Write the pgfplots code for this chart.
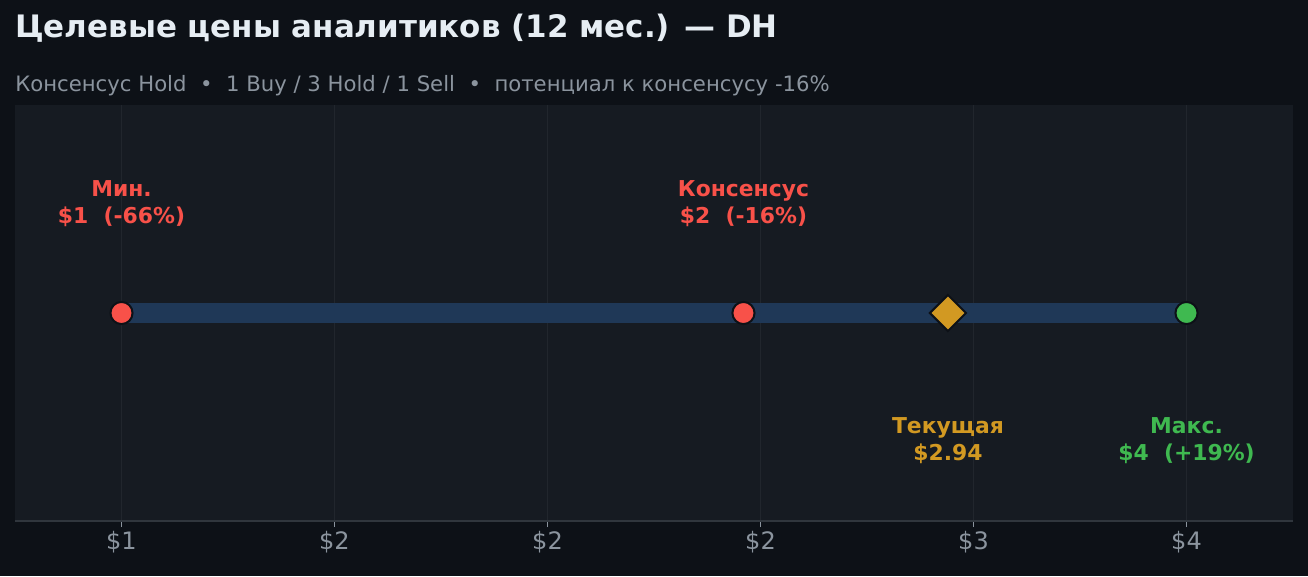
\documentclass[border=0pt]{standalone}
\usepackage{pgfplots}
\pgfplotsset{compat=1.18}
\usepackage{fontspec}
\setmainfont{DejaVu Sans}

\definecolor{pagebg}{HTML}{0D1117}
\definecolor{plotbg}{HTML}{161B22}
\definecolor{gridc}{HTML}{21262D}
\definecolor{spine}{HTML}{30363D}
\definecolor{titlec}{HTML}{E6EDF3}
\definecolor{subc}{HTML}{8B949E}
\definecolor{barc}{HTML}{1F3857}
\definecolor{redc}{HTML}{F85149}
\definecolor{goldc}{HTML}{D29922}
\definecolor{greenc}{HTML}{3FB950}

\begin{document}
\begin{tikzpicture}
% page 1308x576 px, 1px = 0.75pt; axis box at px (15..1293, 105..521)
\fill[pagebg] (-11.25pt,-41.25pt) rectangle (969.75pt,390.75pt);
\useasboundingbox (-11.25pt,-41.25pt) rectangle (969.75pt,390.75pt);

\node[anchor=base west, inner sep=0pt, text=titlec, font=\fontsize{23.2}{28}\selectfont\bfseries]
  at (0pt,362.25pt) {Целевые цены аналитиков (12 мес.) — DH};
\node[anchor=base west, inner sep=0pt, text=subc, font=\fontsize{15.9}{19}\selectfont]
  at (0pt,322.5pt) {Консенсус Hold \ •\ \ 1 Buy / 3 Hold / 1 Sell \ •\ \ потенциал к консенсусу -16\%};

\begin{axis}[
  at={(0pt,0pt)}, anchor=south west,
  scale only axis, width=958.5pt, height=312pt,
  xmin=0.75, xmax=3.75, ymin=-1, ymax=1,
  axis background/.style={fill=plotbg},
  axis x line=bottom, axis y line=none,
  x axis line style={draw=spine, line width=1.5pt, -},
  xtick={1,1.5,2,2.5,3,3.5},
  xticklabels={\$1,\$2,\$2,\$2,\$3,\$4},
  xticklabel style={text=subc, font=\fontsize{18}{21}\selectfont},
  major tick length=4.5pt, tick align=outside,
  xtick style={draw=subc, line width=0.8pt},
  xmajorgrids, grid style={draw=gridc, line width=0.8pt},
  ytick=\empty,
  clip=false,
]
% range bar
\addplot[draw=barc, line width=15pt, line cap=butt] coordinates {(1,0) (3.5,0)};
% min, consensus
\addplot[only marks, mark=*, mark size=8.3pt, mark options={fill=redc, draw=pagebg, line width=1.5pt}]
  coordinates {(1,0) (2.46,0)};
% max
\addplot[only marks, mark=*, mark size=8.3pt, mark options={fill=greenc, draw=pagebg, line width=1.5pt}]
  coordinates {(3.5,0)};
% current
\addplot[only marks, mark=square*, mark size=9.6pt, mark options={fill=goldc, draw=pagebg, line width=1.5pt, rotate=45}]
  coordinates {(2.94,0)};

\node[align=center, text=redc, font=\fontsize{16.4}{20}\selectfont\bfseries] at (axis cs:1,0.525) {Мин.\\\$1\ \ (-66\%)};
\node[align=center, text=redc, font=\fontsize{16.4}{20}\selectfont\bfseries] at (axis cs:2.46,0.525) {Консенсус\\\$2\ \ (-16\%)};
\node[align=center, text=goldc, font=\fontsize{16.4}{20}\selectfont\bfseries] at (axis cs:2.94,-0.615) {Текущая\\\$2.94};
\node[align=center, text=greenc, font=\fontsize{16.4}{20}\selectfont\bfseries] at (axis cs:3.5,-0.615) {Макс.\\\$4\ \ (+19\%)};
\end{axis}
\end{tikzpicture}
\end{document}
